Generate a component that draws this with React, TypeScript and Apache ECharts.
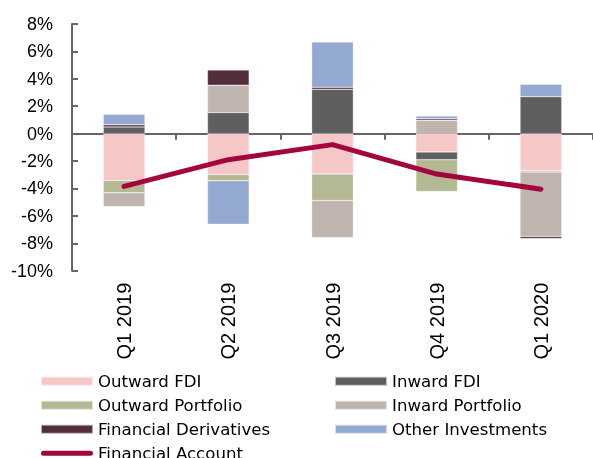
import React, { useEffect, useRef } from "react";
import * as echarts from "echarts";

const categories = ["Q1 2019", "Q2 2019", "Q3 2019", "Q4 2019", "Q1 2020"];
const outwardFDI = [-3.42, -2.98, -2.95, -1.34, -2.68];
const inwardFDI = [0.49, 1.54, 3.24, -0.56, 2.7];
const outwardPortfolio = [-0.9, -0.46, -1.93, -2.32, -0.12];
const inwardPortfolio = [-1.0, 2.0, -2.7, 0.98, -4.7];
const financialDerivatives = [0.15, 1.1, 0.15, 0.1, -0.15];
const otherInvestments = [0.78, -3.17, 3.3, 0.2, 0.9];
const financialAccount = [-3.85, -1.9, -0.8, -2.95, -4.05];

const COLORS = {
  outwardFDI: "#F6C7C7",
  inwardFDI: "#5F5F5F",
  outwardPortfolio: "#B4B994",
  inwardPortfolio: "#C0B4AE",
  derivatives: "#532D3B",
  other: "#94A9D1",
  account: "#A3063C",
};

export default function App() {
  const ref = useRef<HTMLDivElement>(null);
  useEffect(() => {
    if (!ref.current) return;
    const chart = echarts.init(ref.current, null, { renderer: "svg" });
    const barBase = (name: string, data: number[], color: string) => ({
      name,
      type: "bar",
      stack: "total",
      barWidth: "40%",
      data,
      itemStyle: { color, borderColor: "rgba(255,255,255,0.6)", borderWidth: 0.5 },
      xAxisIndex: 0,
    });
    const legendText = { fontFamily: "DejaVu Sans", fontSize: 16.6, color: "#000", lineHeight: 16 };
    const legendCommon = {
      top: 372.7,
      height: 110,
      padding: 0,
      orient: "vertical",
      itemWidth: 52,
      itemHeight: 9,
      itemGap: 7,
      selectedMode: false,
      icon: "rect",
      textStyle: legendText,
    };
    chart.setOption({
      animation: false,
      grid: { left: 72, right: -8, top: 24, bottom: 187.3, containLabel: false },
      legend: [
        {
          ...legendCommon,
          left: 40,
          data: [
            "Outward FDI",
            "Outward Portfolio",
            "Financial Derivatives",
            {
              name: "Financial Account",
              icon: "path://M2.5,0 L49.5,0 A2.5,2.5 0 0 1 49.5,5 L2.5,5 A2.5,2.5 0 0 1 2.5,0 Z",
            },
          ],
        },
        {
          ...legendCommon,
          left: 334,
          data: ["Inward FDI", "Inward Portfolio", "Other Investments"],
        },
      ],
      xAxis: [
        {
          type: "category",
          data: categories,
          position: "bottom",
          axisLine: { show: false, onZero: false },
          axisTick: { show: false },
          axisLabel: {
            rotate: 90,
            fontFamily: "Liberation Sans",
            fontSize: 20,
            color: "#000",
            margin: 12,
          },
        },
        {
          type: "category",
          data: categories,
          axisLine: { show: true, onZero: true, lineStyle: { color: "#666", width: 2 } },
          axisTick: { show: true, inside: true, length: 6, lineStyle: { color: "#666", width: 2 } },
          axisLabel: { show: false },
        },
      ],
      yAxis: {
        type: "value",
        min: -10,
        max: 8,
        interval: 2,
        axisLine: { show: true, lineStyle: { color: "#666", width: 2 } },
        axisTick: { show: true, inside: true, length: 6, lineStyle: { color: "#666", width: 2 } },
        splitLine: { show: false },
        axisLabel: {
          formatter: "{value}%",
          fontFamily: "Liberation Sans",
          fontSize: 18,
          color: "#000",
          margin: 19,
        },
      },
      series: [
        barBase("Outward FDI", outwardFDI, COLORS.outwardFDI),
        barBase("Inward FDI", inwardFDI, COLORS.inwardFDI),
        barBase("Outward Portfolio", outwardPortfolio, COLORS.outwardPortfolio),
        barBase("Inward Portfolio", inwardPortfolio, COLORS.inwardPortfolio),
        barBase("Financial Derivatives", financialDerivatives, COLORS.derivatives),
        barBase("Other Investments", otherInvestments, COLORS.other),
        {
          name: "Financial Account",
          type: "line",
          data: financialAccount,
          xAxisIndex: 0,
          symbol: "none",
          itemStyle: { color: COLORS.account },
          lineStyle: { color: COLORS.account, width: 5, cap: "round", join: "round" },
          z: 5,
        },
      ],
    });
    return () => chart.dispose();
  }, []);
  return (
    <div
      ref={ref}
      style={{ position: "fixed", left: 0, top: 0, width: 593, height: 458 }}
    />
  );
}
